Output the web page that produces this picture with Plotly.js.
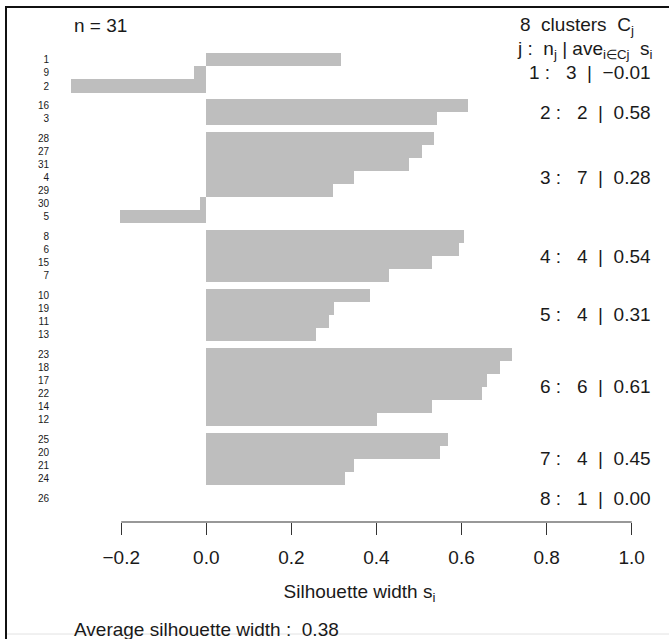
<!DOCTYPE html>
<html>
<head>
<meta charset="utf-8">
<script src="https://cdn.plot.ly/plotly-3.0.1.min.js"></script>
<style>html,body{margin:0;padding:0;background:#fff;}#chart{width:669px;height:639px;}</style>
</head>
<body>
<div id="chart"></div>
<script>
// Observation labels, top to bottom
const obsLabels = ["1","9","2","16","3","28","27","31","4","29","30","5","8","6","15","7",
  "10","19","11","13","23","18","17","22","14","12","25","20","21","24","26"];
// Silhouette widths s_i, same order
const silWidths = [0.316,-0.030,-0.317, 0.614,0.542,
  0.536,0.507,0.476,0.347,0.297,-0.014,-0.204,
  0.605,0.595,0.530,0.430,
  0.384,0.300,0.289,0.259,
  0.718,0.691,0.659,0.649,0.531,0.401,
  0.568,0.549,0.347,0.325,
  0.000];
// Cluster sizes n_j and average widths
const clusterSizes = [3,2,7,4,4,6,4,1];
const clusterAves = ["\u22120.01","0.58","0.28","0.54","0.31","0.61","0.45","0.00"];
const xTicks = [-0.2,0.0,0.2,0.4,0.6,0.8,1.0];
const xTickText = ["\u22120.2","0.0","0.2","0.4","0.6","0.8","1.0"];
const nObs = 31;
const avgWidth = "0.38";

// positions: bars of one cluster stacked, half-bar gap between clusters
const pos = [];
const clusterCenters = [];
let cursor = 0;
clusterSizes.forEach(function(n){
  const start = cursor;
  for (let k=0;k<n;k++){ pos.push(cursor+0.5); cursor += 1; }
  clusterCenters.push((start+cursor)/2);
  cursor += 0.5;
});

const FONT = '"Liberation Sans", Arial, Helvetica, sans-serif';
const TXT = '#1a1a1a';
const W = 669, H = 639;
const px = v => v / W;
const py = v => 1 - v / H;

const trace = {
  type: 'bar', orientation: 'h',
  x: silWidths, y: pos, width: 1,
  marker: {color: '#bebebe', line: {width: 0}},
  hoverinfo: 'skip'
};

const ann = [];
ann.push({xref:'paper', yref:'paper', x:px(72), y:py(25), xanchor:'left', yanchor:'middle',
  text:'n = ' + nObs, showarrow:false, font:{size:19, color:TXT, family:FONT}});
ann.push({xref:'paper', yref:'paper', x:px(636), y:py(26), xanchor:'right', yanchor:'middle',
  text: clusterSizes.length + '\u00a0 clusters\u00a0 C<sub>j</sub>', showarrow:false, font:{size:19, color:TXT, family:FONT}});
ann.push({xref:'paper', yref:'paper', x:px(655), y:py(50), xanchor:'right', yanchor:'middle',
  text:'j :\u00a0 n<sub>j</sub> | ave<sub>i\u2208Cj</sub>\u00a0 s<sub>i</sub>', showarrow:false, font:{size:19, color:TXT, family:FONT}});
clusterSizes.forEach(function(n,j){
  ann.push({xref:'x', yref:'y', x:1.05, y:clusterCenters[j], xanchor:'right', yanchor:'middle',
    text:(j+1) + ' :\u00a0\u00a0 ' + n + ' \u00a0|\u00a0 ' + clusterAves[j], showarrow:false,
    font:{size:19, color:TXT, family:FONT}});
});
ann.push({xref:'paper', yref:'paper', x:px(72), y:py(629), xanchor:'left', yanchor:'middle',
  text:'Average silhouette width :\u00a0 ' + avgWidth, showarrow:false, font:{size:19, color:TXT, family:FONT}});

const shapes = [
  {type:'line', xref:'x', yref:'paper', x0:-0.2, x1:1.0, y0:py(522), y1:py(522), line:{color:'#333', width:1.2}},
  {type:'line', xref:'paper', yref:'paper', x0:px(6), x1:px(6), y0:py(6), y1:py(639), line:{color:'#111', width:2}},
  {type:'line', xref:'paper', yref:'paper', x0:px(5), x1:px(669), y0:py(7), y1:py(7), line:{color:'#111', width:2}},
  {type:'line', xref:'paper', yref:'paper', x0:px(7), x1:px(669), y0:py(634), y1:py(634), line:{color:'#e2e2e2', width:1}}
];

const x0px = 50, zeroPx = 206.3, unitPx = 425.4;
const barTop = 53.3, barUnit = 13.08, plotBottom = 522;

const layout = {
  width: W, height: H,
  margin: {l:0, r:0, t:0, b:0, pad:0},
  paper_bgcolor: '#fff', plot_bgcolor: '#fff',
  showlegend: false,
  font: {family: FONT, color: TXT},
  bargap: 0,
  xaxis: {
    domain: [x0px/W, 1],
    range: [(x0px - zeroPx)/unitPx, (W - zeroPx)/unitPx],
    tickvals: xTicks, ticktext: xTickText,
    ticks: 'outside', ticklen: 12, tickwidth: 1.2, tickcolor: '#333',
    ticklabelstandoff: 6,
    showline: false, showgrid: false, zeroline: false,
    tickfont: {size: 19, color: TXT, family: FONT},
    title: {text: 'Silhouette width s<sub>i</sub>', font: {size: 19, color: TXT, family: FONT}, standoff: 17},
    automargin: false, fixedrange: true
  },
  yaxis: {
    domain: [(H - plotBottom)/H, 1],
    range: [(plotBottom - barTop)/barUnit, -barTop/barUnit],
    tickvals: pos, ticktext: obsLabels,
    ticks: '', showline: false, showgrid: false, zeroline: false,
    tickfont: {size: 10, color: TXT, family: FONT},
    automargin: false, fixedrange: true
  },
  annotations: ann,
  shapes: shapes
};

Plotly.newPlot('chart', [trace], layout, {displayModeBar: false, staticPlot: true});
</script>
</body>
</html>
